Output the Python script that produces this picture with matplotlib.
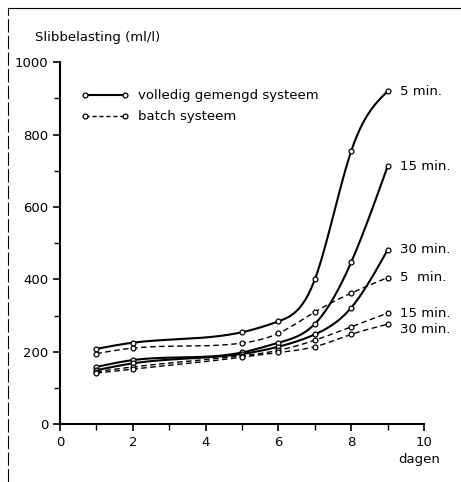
import matplotlib
matplotlib.use("Agg")
import matplotlib.pyplot as plt
import numpy as np

plt.rcParams['font.family'] = ['Liberation Sans Narrow', 'DejaVu Sans']

dagen = [1, 2, 5, 6, 7, 8, 9]

# volledig gemengd systeem (solid)
vol_5 = [208, 225, 254, 284, 400, 755, 920]
vol_15 = [158, 177, 198, 225, 277, 448, 713]
vol_30 = [149, 168, 194, 214, 248, 322, 482]

# batch systeem (dashed)
bat_5 = [195, 210, 224, 251, 310, 362, 405]
bat_15 = [145, 158, 189, 204, 232, 269, 307]
bat_30 = [141, 152, 185, 198, 214, 248, 276]

labels = ["5 min.", "15 min.", "30 min.", "5  min.", "15 min.", "30 min."]


def smooth(x, y, n=200):
    # natural cubic spline, only to draw the curve between the points
    x = np.asarray(x, float)
    y = np.asarray(y, float)
    nn = len(x)
    h = np.diff(x)
    A = np.zeros((nn, nn))
    b = np.zeros(nn)
    A[0, 0] = A[-1, -1] = 1
    for i in range(1, nn - 1):
        A[i, i - 1] = h[i - 1]
        A[i, i] = 2 * (h[i - 1] + h[i])
        A[i, i + 1] = h[i]
        b[i] = 6 * ((y[i + 1] - y[i]) / h[i] - (y[i] - y[i - 1]) / h[i - 1])
    M = np.linalg.solve(A, b)
    xs = np.linspace(x[0], x[-1], n)
    k = np.clip(np.searchsorted(x, xs) - 1, 0, nn - 2)
    t1 = x[k + 1] - xs
    t0 = xs - x[k]
    hk = h[k]
    ys = (M[k] * t1**3 + M[k + 1] * t0**3) / (6 * hk) \
        + (y[k] / hk - M[k] * hk / 6) * t1 + (y[k + 1] / hk - M[k + 1] * hk / 6) * t0
    return xs, ys


fig = plt.figure(figsize=(4.61, 4.82), dpi=100)
ax = fig.add_axes([0.130, 0.120, 0.790, 0.751])

series = [(vol_5, '-'), (vol_15, '-'), (vol_30, '-'),
          (bat_5, '--'), (bat_15, '--'), (bat_30, '--')]
label_y = [920, 713, 482, 405, 307, 262]

for (vals, ls), lab, ly in zip(series, labels, label_y):
    xs, ys = smooth(dagen, vals)
    if ls == '-':
        ax.plot(xs, ys, color='black', lw=1.5)
    else:
        ax.plot(xs, ys, color='black', lw=1.0, ls='--', dashes=(4, 2.5))
    ax.plot(dagen, vals, 'o', color='black', mfc='white', ms=3.5, mew=0.9)
    ax.text(9.35, ly, lab, fontsize=9.5, va='center', ha='left')

# legend drawn by hand
ax.plot([0.069, 0.179], [0.909, 0.909], '-o', color='black', lw=1.5, ms=3.5,
        mfc='white', mew=0.9, transform=ax.transAxes, clip_on=False)
ax.plot([0.069, 0.179], [0.851, 0.851], '--o', color='black', lw=1.0, ms=3.5,
        mfc='white', mew=0.9, dashes=(3, 2), transform=ax.transAxes, clip_on=False)
ax.text(0.214, 0.909, "volledig gemengd systeem", transform=ax.transAxes,
        fontsize=9.5, va='center')
ax.text(0.214, 0.851, "batch systeem", transform=ax.transAxes,
        fontsize=9.5, va='center')

ax.set_xlim(0, 10)
ax.set_ylim(0, 1000)
ax.set_xticks([0, 2, 4, 6, 8, 10])
ax.set_xticks([1, 3, 5, 7, 9], minor=True)
ax.set_yticks([0, 200, 400, 600, 800, 1000])
ax.set_yticks([100, 300, 500, 700, 900], minor=True)
ax.tick_params(which='major', length=5, width=1.2, labelsize=9.5)
ax.tick_params(which='minor', length=4, width=1.0)
for s in ['top', 'right']:
    ax.spines[s].set_visible(False)
ax.spines['left'].set_linewidth(1.5)
ax.spines['bottom'].set_linewidth(1.5)

fig.text(0.076, 0.922, "Slibbelasting (ml/l)", fontsize=9.5, va='center')
fig.text(0.955, 0.046, "dagen", fontsize=9.5, ha='right', va='center')

# scanned page border
fig.add_artist(plt.Line2D([0.017, 1.0], [0.983, 0.983], color='black', lw=0.8))
fig.add_artist(plt.Line2D([0.017, 0.017], [0.0, 0.983], color='black', lw=0.8,
                          ls=(0, (12, 3))))

fig.savefig("out.png", dpi=100)
